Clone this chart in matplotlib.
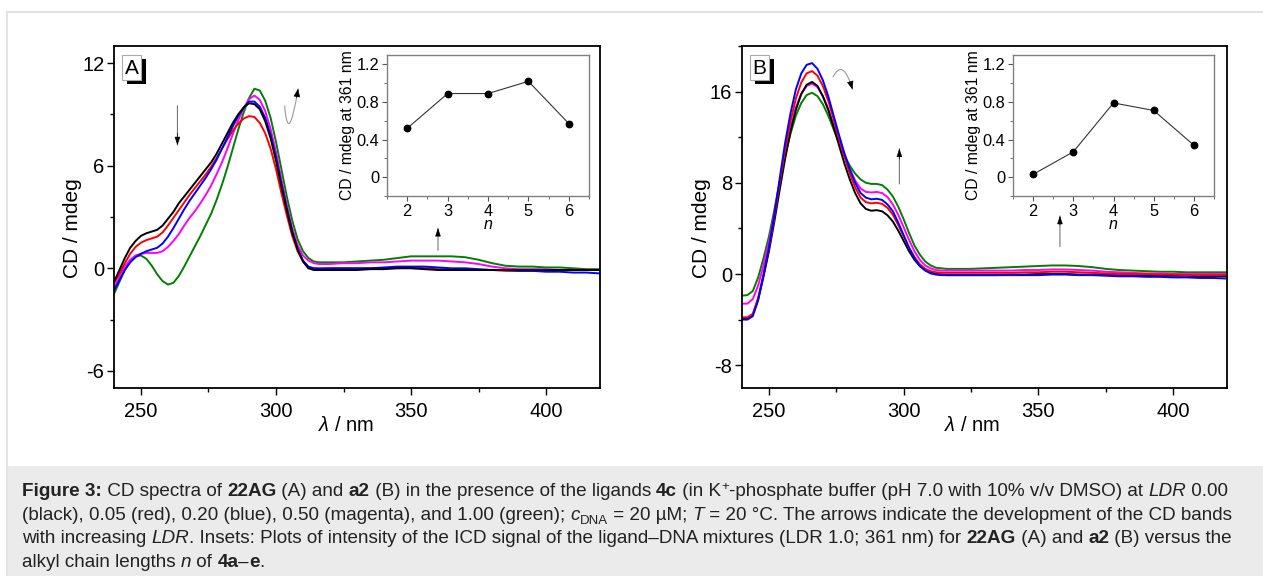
import matplotlib
matplotlib.use("Agg")
import matplotlib.pyplot as plt
from matplotlib.patches import FancyArrowPatch, Rectangle
from matplotlib.path import Path
from matplotlib.ticker import MultipleLocator

plt.rcParams['font.family'] = ['Liberation Sans', 'DejaVu Sans']
plt.rcParams['mathtext.fontset'] = 'custom'
plt.rcParams['mathtext.rm'] = 'Liberation Sans'
plt.rcParams['mathtext.it'] = 'Liberation Sans:italic'
plt.rcParams['mathtext.bf'] = 'Liberation Sans:bold'
plt.rcParams['axes.unicode_minus'] = False

# wavelength grid (nm): 2 nm steps over the bands, 5 nm steps in the tail
wl = list(range(240, 317, 2)) + list(range(320, 421, 5))

# ---- panel A: 22AG spectra (mdeg) ----
a_black = [-0.8, -0.1, 0.6, 1.2, 1.6, 1.9, 2.05, 2.15, 2.25, 2.5, 2.9, 3.3, 3.8, 4.2, 4.6, 5.0,
           5.4, 5.8, 6.2, 6.7, 7.3, 7.9, 8.5, 9.0, 9.4, 9.65, 9.6, 9.3, 8.6, 7.6, 6.3, 4.8,
           3.4, 2.1, 1.1, 0.4, 0.0, -0.1, -0.1,
           -0.1, -0.1, -0.1, -0.05, -0.05, 0.0, 0.0, -0.05, -0.1, -0.1, -0.1, -0.1, -0.1,
           -0.1, -0.1, -0.1, -0.1, -0.1, -0.1, -0.1, -0.1]
a_red = [-0.9, -0.3, 0.3, 0.85, 1.25, 1.5, 1.65, 1.75, 1.85, 2.1, 2.5, 2.95, 3.4, 3.85, 4.3, 4.7,
         5.1, 5.5, 5.95, 6.45, 7.0, 7.55, 8.05, 8.45, 8.75, 8.9, 8.85, 8.5, 7.9, 7.0, 5.8, 4.4,
         3.1, 1.9, 1.0, 0.4, 0.05, 0.0, -0.05,
         0.0, 0.0, 0.0, 0.0, 0.0, 0.05, 0.05, 0.0, -0.05, -0.05, -0.05, -0.1, -0.1,
         -0.15, -0.15, -0.15, -0.15, -0.1, -0.1, -0.1, -0.1]
a_blue = [-1.3, -0.7, -0.1, 0.35, 0.65, 0.85, 1.0, 1.1, 1.2, 1.45, 1.85, 2.35, 2.9, 3.45, 3.95, 4.4,
          4.85, 5.3, 5.8, 6.35, 7.0, 7.65, 8.3, 8.9, 9.4, 9.75, 9.75, 9.45, 8.8, 7.8, 6.5, 4.95,
          3.5, 2.15, 1.15, 0.45, 0.1, 0.0, 0.0,
          0.0, 0.0, 0.0, 0.0, 0.05, 0.1, 0.1, 0.1, 0.05, 0.0, 0.0, -0.05, -0.1,
          -0.1, -0.15, -0.15, -0.2, -0.2, -0.25, -0.25, -0.3]
a_magenta = [-1.2, -0.5, 0.1, 0.5, 0.75, 0.85, 0.9, 0.9, 0.9, 1.0, 1.25, 1.6, 2.0, 2.5, 2.95, 3.35,
             3.8, 4.3, 4.85, 5.5, 6.2, 7.0, 7.85, 8.65, 9.35, 9.9, 10.1, 9.85, 9.2, 8.15, 6.8, 5.2,
             3.7, 2.35, 1.35, 0.75, 0.45, 0.3, 0.25,
             0.25, 0.3, 0.3, 0.35, 0.35, 0.4, 0.45, 0.45, 0.45, 0.4, 0.35, 0.25, 0.1,
             0.0, -0.05, -0.05, -0.05, -0.1, -0.1, -0.1, -0.1]
a_green = [-1.5, -0.8, -0.1, 0.4, 0.7, 0.75, 0.55, 0.15, -0.35, -0.75, -0.95, -0.85, -0.45, 0.1, 0.7, 1.3,
           1.9, 2.55, 3.2, 4.0, 4.9, 5.9, 7.0, 8.1, 9.1, 9.95, 10.5, 10.4, 9.8, 8.8, 7.4, 5.8,
           4.2, 2.8, 1.7, 1.0, 0.6, 0.4, 0.35,
           0.35, 0.35, 0.4, 0.45, 0.5, 0.6, 0.7, 0.7, 0.7, 0.7, 0.65, 0.5, 0.3,
           0.15, 0.1, 0.1, 0.05, 0.05, 0.0, -0.05, -0.05]

# ---- panel B: a2 spectra (mdeg) ----
b_black = [-3.9, -3.9, -3.6, -2.2, -0.2, 2.0, 4.6, 7.4, 10.1, 12.5, 14.4, 15.8, 16.6, 16.85, 16.5, 15.6,
           14.4, 12.9, 11.3, 9.7, 8.3, 7.1, 6.2, 5.7, 5.55, 5.6, 5.5, 5.15, 4.6, 3.8, 2.9, 2.0,
           1.25, 0.7, 0.35, 0.15, 0.0, -0.05, -0.1,
           -0.1, -0.1, -0.1, -0.1, -0.05, -0.05, 0.0, 0.0, 0.0, -0.05, -0.05, -0.1, -0.1,
           -0.1, -0.1, -0.15, -0.15, -0.15, -0.2, -0.2, -0.2]
b_red = [-3.8, -3.8, -3.5, -2.1, 0.0, 2.3, 5.0, 8.0, 10.9, 13.4, 15.4, 16.8, 17.6, 17.8, 17.4, 16.5,
         15.2, 13.6, 11.9, 10.3, 8.8, 7.6, 6.7, 6.3, 6.2, 6.25, 6.15, 5.8, 5.2, 4.3, 3.3, 2.3,
         1.5, 0.85, 0.45, 0.25, 0.15, 0.1, 0.1,
         0.1, 0.1, 0.1, 0.1, 0.1, 0.15, 0.15, 0.2, 0.2, 0.15, 0.1, 0.05, 0.0,
         0.0, 0.0, -0.05, -0.05, -0.1, -0.1, -0.1, -0.1]
b_blue = [-4.0, -4.0, -3.7, -2.3, -0.1, 2.3, 5.2, 8.4, 11.5, 14.1, 16.2, 17.6, 18.35, 18.5, 18.0, 17.0,
          15.6, 13.9, 12.2, 10.6, 9.2, 8.0, 7.1, 6.7, 6.55, 6.6, 6.5, 6.1, 5.5, 4.5, 3.4, 2.3,
          1.4, 0.7, 0.3, 0.05, -0.05, -0.1, -0.1,
          -0.1, -0.1, -0.1, -0.1, -0.1, -0.1, -0.1, -0.05, -0.05, -0.1, -0.1, -0.15, -0.2,
          -0.2, -0.25, -0.25, -0.3, -0.3, -0.35, -0.35, -0.4]
b_magenta = [-2.6, -2.6, -2.2, -1.0, 0.8, 2.8, 5.3, 8.0, 10.6, 12.8, 14.6, 15.8, 16.5, 16.7, 16.4, 15.6,
             14.5, 13.1, 11.7, 10.3, 9.2, 8.2, 7.5, 7.2, 7.15, 7.2, 7.1, 6.75, 6.1, 5.2, 4.1, 3.0,
             2.0, 1.25, 0.75, 0.5, 0.35, 0.3, 0.3,
             0.3, 0.3, 0.3, 0.3, 0.3, 0.35, 0.35, 0.4, 0.4, 0.35, 0.3, 0.2, 0.15,
             0.1, 0.05, 0.05, 0.0, 0.0, 0.0, 0.0, 0.0]
b_green = [-1.9, -1.85, -1.5, -0.3, 1.4, 3.3, 5.6, 8.1, 10.4, 12.3, 13.9, 15.0, 15.7, 15.9, 15.6, 14.9,
           13.9, 12.7, 11.5, 10.4, 9.5, 8.8, 8.3, 8.0, 7.9, 7.9, 7.8, 7.4, 6.8, 5.9, 4.8, 3.6,
           2.5, 1.7, 1.1, 0.75, 0.55, 0.5, 0.45,
           0.45, 0.45, 0.5, 0.55, 0.6, 0.65, 0.7, 0.75, 0.75, 0.7, 0.6, 0.45, 0.35,
           0.3, 0.25, 0.2, 0.2, 0.15, 0.15, 0.15, 0.15]

# ---- insets: ICD at 361 nm vs alkyl chain length n ----
n_vals = [2, 3, 4, 5, 6]
icd_a = [0.52, 0.89, 0.89, 1.02, 0.57]
icd_b = [0.03, 0.27, 0.79, 0.71, 0.34]

col = {'black': '#000000', 'red': '#ff0000', 'blue': '#0000ff',
       'magenta': '#ff00ff', 'green': '#008000'}

W, H = 1263, 576
fig = plt.figure(figsize=(W / 100, H / 100), dpi=100)


def box(x0, y0, x1, y1):
    # pixel box (top-left origin) -> figure fraction rect
    return [x0 / W, 1 - y1 / H, (x1 - x0) / W, (y1 - y0) / H]


# page frame and caption background
fig.add_artist(plt.Line2D([7 / W, 1], [1 - 12 / H, 1 - 12 / H], color='#e3e3e3', lw=1.5))
fig.add_artist(plt.Line2D([7 / W, 7 / W], [0, 1 - 12 / H], color='#e3e3e3', lw=1.5))
fig.add_artist(Rectangle((8 / W, 0), 1, 110 / H, transform=fig.transFigure,
                         facecolor='#ebebeb', edgecolor='none'))


def style_main(ax, xlab_x, ylab_x):
    for s in ax.spines.values():
        s.set_linewidth(1.3)
    ax.tick_params(which='both', direction='out', top=False, right=False,
                   labelsize=14.5, width=1.0)
    ax.tick_params(axis='x', pad=5)
    ax.tick_params(axis='y', pad=2)
    ax.tick_params(which='major', length=5)
    ax.tick_params(which='minor', length=3)
    ax.xaxis.set_minor_locator(MultipleLocator(25))
    ax.set_xlim(240, 420)
    ax.set_xticks([250, 300, 350, 400])
    ax.set_xlabel(r'$\lambda$ / nm', fontsize=14.5)
    ax.set_ylabel('CD / mdeg', fontsize=15)
    ax.xaxis.set_label_coords(xlab_x, -0.083)
    ax.yaxis.set_label_coords(ylab_x, 0.468)


def style_inset(ax, vals):
    ax.plot(n_vals, vals, color='#333333', lw=0.8, marker='o', ms=4.6,
            mfc='black', mec='black')
    for s in ax.spines.values():
        s.set_color('#808080')
        s.set_linewidth(1.0)
    ax.set_xlim(1.5, 6.5)
    ax.set_ylim(-0.2, 1.3)
    ax.set_xticks(n_vals)
    ax.set_yticks([0, 0.4, 0.8, 1.2])
    ax.set_yticklabels(['0', '0.4', '0.8', '1.2'])
    ax.xaxis.set_minor_locator(MultipleLocator(0.5))
    ax.yaxis.set_minor_locator(MultipleLocator(0.2))
    ax.tick_params(which='both', direction='out', top=False, right=False,
                   labelsize=11.8, pad=2, color='#555555')
    ax.tick_params(which='major', length=3.5)
    ax.tick_params(which='minor', length=2)
    ax.set_xlabel('$n$', fontsize=11.5, labelpad=-1)
    ax.set_ylabel('CD / mdeg at 361 nm', fontsize=11.3, labelpad=1)
    ax.patch.set_alpha(0)


def panel_tag(ax, letter):
    # white box with grey border and black drop shadow
    x, y, w, h = 0.017, 0.901, 0.039, 0.073
    ax.add_patch(Rectangle((x + 0.009, y - 0.013), w, h, transform=ax.transAxes,
                           facecolor='black', edgecolor='none', zorder=5))
    ax.add_patch(Rectangle((x, y), w, h, transform=ax.transAxes,
                           facecolor='white', edgecolor='#aaaaaa', lw=0.8, zorder=6))
    ax.text(x + w / 2, y + h / 2 - 0.003, letter, transform=ax.transAxes,
            ha='center', va='center', fontsize=15, zorder=7)


def straight_arrow(ax, x, y0, y1):
    ax.annotate('', xy=(x, y1), xytext=(x, y0),
                arrowprops=dict(arrowstyle='-', color='#777777', lw=0.8,
                                shrinkA=0, shrinkB=0))
    ax.annotate('', xy=(x, y1), xytext=(x, y1 - (y1 - y0) * 0.3),
                arrowprops=dict(arrowstyle='-|>,head_length=0.5,head_width=0.17',
                                color='black', lw=0.5, shrinkA=0, shrinkB=0))


def curved_arrow(ax, p0, pc, p1):
    path = Path([p0, pc, p1], [Path.MOVETO, Path.CURVE3, Path.CURVE3])
    ax.add_patch(FancyArrowPatch(path=path, arrowstyle='-', color='#999999', lw=0.8))
    # small black arrow head at the end
    tail = (p1[0] - (p1[0] - pc[0]) * 0.15, p1[1] - (p1[1] - pc[1]) * 0.15)
    ax.annotate('', xy=p1, xytext=tail,
                arrowprops=dict(arrowstyle='-|>,head_length=0.5,head_width=0.2',
                                color='black', lw=0.5, shrinkA=0, shrinkB=0))


# ---- panel A ----
axA = fig.add_axes(box(114, 46, 600, 388))
for y, c in [(a_green, 'green'), (a_magenta, 'magenta'), (a_red, 'red'),
             (a_blue, 'blue'), (a_black, 'black')]:
    axA.plot(wl, y, color=col[c], lw=1.4)
style_main(axA, 0.477, -0.066)
axA.set_ylim(-7, 13)
axA.set_yticks([-6, 0, 6, 12])
axA.yaxis.set_minor_locator(MultipleLocator(3))
panel_tag(axA, 'A')
straight_arrow(axA, 263.5, 9.5, 7.2)
straight_arrow(axA, 360, 1.05, 2.35)
curved_arrow(axA, (303.2, 9.5), (304.5, 7.0), (308.2, 10.5))

insA = fig.add_axes(box(387, 55, 589, 196))
style_inset(insA, icd_a)

# ---- panel B ----
axB = fig.add_axes(box(742, 46, 1227, 388))
for y, c in [(b_green, 'green'), (b_magenta, 'magenta'), (b_black, 'black'),
             (b_red, 'red'), (b_blue, 'blue')]:
    axB.plot(wl, y, color=col[c], lw=1.4)
style_main(axB, 0.474, -0.064)
axB.set_ylim(-10, 20)
axB.set_yticks([-8, 0, 8, 16])
axB.yaxis.set_minor_locator(MultipleLocator(4))
panel_tag(axB, 'B')
straight_arrow(axB, 298.4, 7.9, 11.0)
straight_arrow(axB, 358, 2.4, 5.1)
curved_arrow(axB, (273.8, 17.3), (277.5, 19.0), (281.0, 16.2))

insB = fig.add_axes(box(1013, 55, 1214, 196))
style_inset(insB, icd_b)

# ---- caption, drawn piece by piece (bold / italic / sub- and superscripts) ----
CAP_SIZE = 13.6
renderer = fig.canvas.get_renderer()


def seg_width(s, **kw):
    t = fig.text(0, 0, '|' + s + '|', **kw)
    w1 = t.get_window_extent(renderer).width
    t.remove()
    t = fig.text(0, 0, '||', **kw)
    w0 = t.get_window_extent(renderer).width
    t.remove()
    return w1 - w0


def rich_line(y_px, segs):
    x = 22.0
    for s, st in segs:
        kw = dict(fontsize=CAP_SIZE, color='#222222')
        dy = 0
        if st == 'bold':
            kw['fontweight'] = 'bold'
        elif st == 'ital':
            kw['fontstyle'] = 'italic'
        elif st == 'sup':
            kw['fontsize'] = CAP_SIZE * 0.7
            dy = -6
        elif st == 'sub':
            kw['fontsize'] = CAP_SIZE * 0.7
            dy = 4
        fig.text(x / W, 1 - (y_px + dy) / H, s, ha='left', va='baseline', **kw)
        x += seg_width(s, **kw)


cap = [
    [('Figure 3:', 'bold'), (' CD spectra of ', ''), ('22AG', 'bold'), (' (A) and ', ''), ('a2', 'bold'),
     (' (B) in the presence of the ligands ', ''), ('4c', 'bold'), (' (in K', ''), ('+', 'sup'),
     ('-phosphate buffer (pH 7.0 with 10% v/v DMSO) at ', ''), ('LDR', 'ital'), (' 0.00', '')],
    [('(black), 0.05 (red), 0.20 (blue), 0.50 (magenta), and 1.00 (green); ', ''), ('c', 'ital'),
     ('DNA', 'sub'), (' = 20 µM; ', ''), ('T', 'ital'),
     (' = 20 °C. The arrows indicate the development of the CD bands', '')],
    [('with increasing ', ''), ('LDR', 'ital'),
     ('. Insets: Plots of intensity of the ICD signal of the ligand–DNA mixtures (LDR 1.0; 361 nm) for ', ''),
     ('22AG', 'bold'), (' (A) and ', ''), ('a2', 'bold'), (' (B) versus the', '')],
    [('alkyl chain lengths ', ''), ('n', 'ital'), (' of ', ''), ('4a', 'bold'), ('–', ''), ('e', 'bold'), ('.', '')],
]
for i, segs in enumerate(cap):
    rich_line(496 + i * 23.7, segs)

fig.savefig('out.png', dpi=100)
